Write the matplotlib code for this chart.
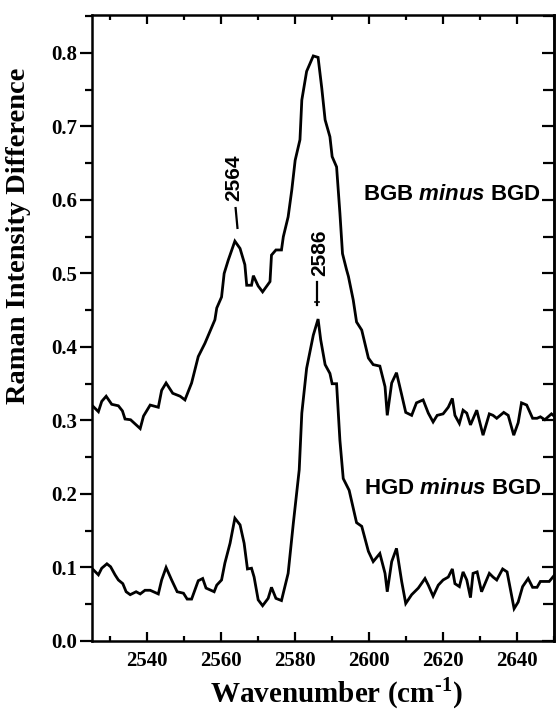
import matplotlib
matplotlib.use('Agg')
import matplotlib.pyplot as plt
from matplotlib.ticker import MultipleLocator, FormatStrFormatter

# BGB minus BGD (upper trace)
bgb_x = [2525.4, 2526.8, 2527.7, 2528.9, 2530.4, 2532.2, 2533.3, 2534.0, 2535.5, 2538.1,
         2539.0, 2540.8, 2543.0, 2543.9, 2545.1, 2546.9, 2548.9, 2550.2, 2552.0, 2553.8,
         2555.6, 2558.3, 2558.8, 2560.1, 2560.8, 2561.9, 2563.7, 2565.1, 2566.4, 2566.9,
         2568.2, 2568.7, 2570.0, 2571.2, 2573.2, 2573.6, 2574.8, 2576.3, 2576.8, 2578.1,
         2579.1, 2580.0, 2581.3, 2581.8, 2583.1, 2584.9, 2586.2, 2587.2, 2588.1, 2589.4,
         2590.0, 2591.2, 2592.1, 2592.8, 2593.9, 2594.4, 2595.7, 2596.6, 2598.0, 2599.8,
         2601.1, 2602.9, 2604.3, 2604.9, 2606.1, 2607.4, 2608.8, 2609.9, 2611.5, 2612.8,
         2614.6, 2616.0, 2617.3, 2618.4, 2620.0, 2621.4, 2622.5, 2623.2, 2624.4, 2625.4,
         2626.4, 2627.4, 2629.1, 2630.8, 2632.5, 2633.5, 2634.5, 2636.4, 2637.6, 2639.1,
         2640.3, 2641.2, 2642.6, 2644.2, 2645.4, 2646.3, 2647.5, 2649.3, 2650.0]
bgb_y = [0.319, 0.312, 0.326, 0.333, 0.322, 0.320, 0.313, 0.302, 0.301, 0.289,
         0.306, 0.321, 0.318, 0.341, 0.351, 0.337, 0.333, 0.328, 0.351, 0.387,
         0.405, 0.437, 0.453, 0.468, 0.500, 0.518, 0.544, 0.534, 0.512, 0.484,
         0.484, 0.497, 0.483, 0.475, 0.489, 0.525, 0.532, 0.532, 0.550, 0.577,
         0.614, 0.654, 0.682, 0.736, 0.775, 0.796, 0.794, 0.752, 0.709, 0.686,
         0.659, 0.645, 0.582, 0.527, 0.505, 0.496, 0.464, 0.434, 0.423, 0.385,
         0.376, 0.374, 0.346, 0.307, 0.351, 0.365, 0.335, 0.311, 0.307, 0.324,
         0.328, 0.310, 0.298, 0.307, 0.309, 0.318, 0.330, 0.307, 0.296, 0.314,
         0.310, 0.294, 0.314, 0.280, 0.309, 0.307, 0.303, 0.311, 0.307, 0.280,
         0.297, 0.324, 0.321, 0.303, 0.303, 0.305, 0.301, 0.309, 0.306]

# HGD minus BGD (lower trace)
hgd_x = [2525.4, 2526.8, 2527.7, 2529.1, 2530.1, 2531.3, 2532.2, 2533.4, 2534.3, 2535.4,
         2537.0, 2538.1, 2539.4, 2540.8, 2543.0, 2543.9, 2545.1, 2546.6, 2548.1, 2549.8,
         2550.8, 2552.0, 2553.8, 2555.0, 2555.9, 2558.1, 2558.8, 2560.1, 2561.0, 2562.4,
         2563.7, 2565.1, 2566.2, 2567.1, 2568.2, 2568.9, 2570.0, 2571.2, 2572.7, 2573.6,
         2574.8, 2576.3, 2578.1, 2579.5, 2581.1, 2581.8, 2583.1, 2584.9, 2586.2, 2586.9,
         2588.1, 2589.4, 2590.0, 2591.2, 2592.1, 2593.0, 2594.6, 2596.6, 2598.0, 2599.8,
         2601.1, 2602.9, 2604.3, 2604.9, 2606.1, 2607.4, 2608.8, 2609.9, 2611.5, 2613.3,
         2615.1, 2616.0, 2617.3, 2618.7, 2620.0, 2621.4, 2622.5, 2623.2, 2624.4, 2625.4,
         2626.4, 2627.4, 2628.1, 2629.2, 2630.4, 2632.5, 2633.5, 2634.5, 2636.1, 2637.3,
         2639.2, 2640.3, 2641.5, 2643.0, 2644.2, 2645.4, 2646.3, 2648.7, 2650.0]
hgd_y = [0.097, 0.090, 0.099, 0.105, 0.101, 0.090, 0.083, 0.078, 0.067, 0.063,
         0.067, 0.064, 0.069, 0.069, 0.064, 0.083, 0.100, 0.083, 0.067, 0.065,
         0.057, 0.057, 0.082, 0.085, 0.072, 0.067, 0.076, 0.083, 0.106, 0.133,
         0.167, 0.158, 0.133, 0.098, 0.099, 0.087, 0.056, 0.048, 0.058, 0.073,
         0.058, 0.055, 0.092, 0.160, 0.233, 0.310, 0.371, 0.416, 0.438, 0.410,
         0.376, 0.364, 0.350, 0.350, 0.273, 0.221, 0.205, 0.161, 0.156, 0.122,
         0.108, 0.119, 0.092, 0.067, 0.108, 0.126, 0.081, 0.051, 0.063, 0.072,
         0.085, 0.076, 0.061, 0.076, 0.083, 0.087, 0.098, 0.078, 0.074, 0.094,
         0.083, 0.059, 0.092, 0.094, 0.067, 0.092, 0.087, 0.083, 0.098, 0.094,
         0.044, 0.053, 0.074, 0.085, 0.073, 0.073, 0.081, 0.081, 0.089]

peak_labels = ['2564', '2586']
trace_labels = [r'BGB $\mathbfit{minus}$ BGD', r'HGD $\mathbfit{minus}$ BGD']

plt.rcParams.update({
    'font.family': 'Liberation Serif', 'font.weight': 'bold',
    'axes.labelweight': 'bold',
    'mathtext.fontset': 'custom', 'mathtext.rm': 'Liberation Serif:bold',
    'mathtext.bf': 'Liberation Serif:bold',
    'mathtext.bfit': 'Liberation Sans:bold:italic',
    'axes.linewidth': 1.8,
})

fig = plt.figure(figsize=(5.56, 7.13), dpi=100)
ax = fig.add_axes([0.165, 0.101, 0.8315, 0.8783])

ax.plot(bgb_x, bgb_y, color='black', lw=2.0, solid_joinstyle='miter')
ax.plot(hgd_x, hgd_y, color='black', lw=2.0, solid_joinstyle='miter')

ax.set_xlim(2525, 2650)
ax.set_ylim(0, 0.852)
ax.xaxis.set_major_locator(MultipleLocator(20))
ax.xaxis.set_minor_locator(MultipleLocator(10))
ax.yaxis.set_major_locator(MultipleLocator(0.1))
ax.yaxis.set_minor_locator(MultipleLocator(0.05))
ax.yaxis.set_major_formatter(FormatStrFormatter('%.1f'))

ax.tick_params(axis='x', which='both', direction='in', top=True, width=1.6, labelsize=15, pad=7)
ax.tick_params(axis='x', which='major', length=6.8)
ax.tick_params(axis='x', which='minor', length=3.6)
ax.tick_params(axis='y', which='both', direction='out', right=False, width=1.6, labelsize=15, pad=2)
ax.tick_params(axis='y', which='major', length=8.6)
ax.tick_params(axis='y', which='minor', length=5)

# right-hand ticks point inward
sec = ax.secondary_yaxis('right')
sec.yaxis.set_major_locator(MultipleLocator(0.1))
sec.yaxis.set_minor_locator(MultipleLocator(0.05))
sec.tick_params(which='both', direction='in', width=1.6, labelright=False)
sec.tick_params(which='major', length=9)
sec.tick_params(which='minor', length=8)
sec.spines['right'].set_linewidth(1.8)

fig.text(0.604, 0.016, r'Wavenumber (cm$^{\text{-1}}$)', fontsize=21, fontweight='bold',
         ha='center', va='baseline')
ax.set_ylabel('Raman Intensity Difference', fontsize=20.5)
ax.yaxis.set_label_coords(-0.131, 0.647)

# trace labels
sans = {'family': 'Liberation Sans', 'weight': 'bold', 'size': 16}
ax.text(2646.3, 0.600, trace_labels[0], ha='right', va='baseline', fontdict=sans)
ax.text(2646.8, 0.200, trace_labels[1], ha='right', va='baseline', fontdict=sans)

# peak markers
sans_pk = dict(sans, size=15)
ax.text(2563.5, 0.630, peak_labels[0], rotation=90, ha='center', va='center', fontdict=sans_pk)
ax.plot([2563.9, 2564.4], [0.589, 0.562], color='black', lw=1.6)
ax.text(2586.6, 0.528, peak_labels[1], rotation=90, ha='center', va='center', fontdict=sans_pk)
ax.plot([2586.0, 2586.0], [0.489, 0.457], color='black', lw=1.6)
ax.plot([2585.5, 2586.5], [0.461, 0.461], color='black', lw=1.2)

fig.savefig('out.png', dpi=100)
